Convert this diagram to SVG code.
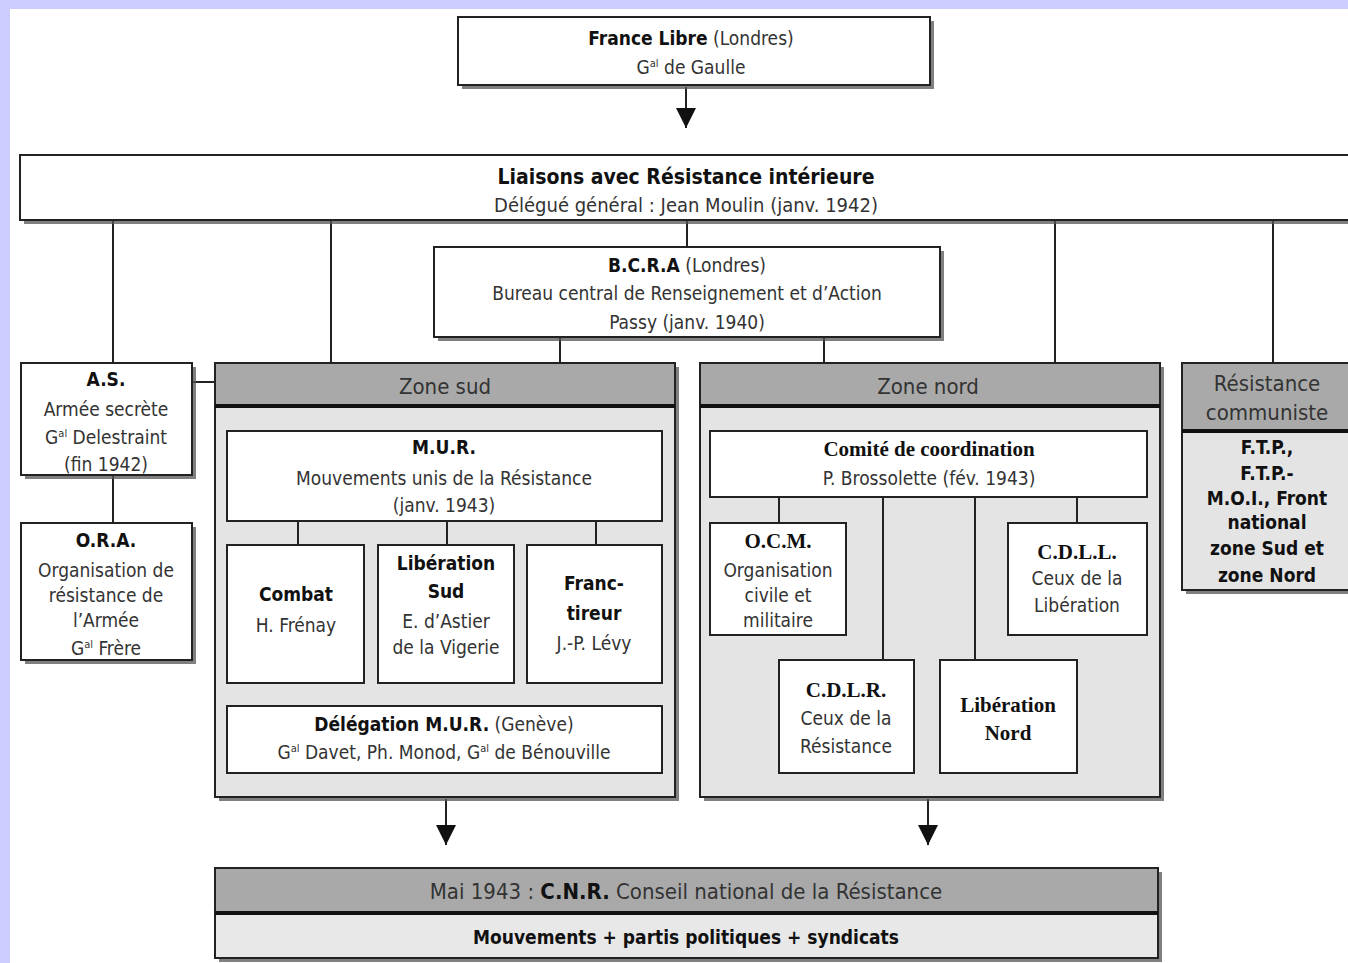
<svg xmlns="http://www.w3.org/2000/svg" width="1348" height="963" viewBox="0 0 1348 963">
<style>
.sh{fill:#555;opacity:.75}
.bx{fill:#fff;stroke:#222;stroke-width:2}
.zb{fill:#e4e4e4;stroke:#222;stroke-width:2}
.zh{fill:#a9a9a9;stroke:#222;stroke-width:2}
.ln{stroke:#222;stroke-width:2;fill:none}
text{font-family:"DejaVu Sans Condensed","Liberation Sans Narrow","Liberation Sans",sans-serif;font-size:19px;fill:#333;text-anchor:middle}
.b{font-weight:bold;fill:#111}
.s{font-family:"Liberation Serif",serif;font-weight:bold;fill:#111;font-size:21px}
.h{font-size:22px;fill:#333}
.sup{font-size:11px}
</style>
<defs>
<marker id="ah" markerWidth="20" markerHeight="20" refX="20" refY="10" orient="auto" markerUnits="userSpaceOnUse" viewBox="0 0 20 20">
<path d="M0,0 L20,10 L0,20 Z" fill="#111"/>
</marker>
</defs>
<rect width="1348" height="963" fill="#ccccff"/>
<rect x="10" y="9" width="1338" height="954" fill="#fff"/>

<g id="connectors">
<line class="ln" x1="686" y1="87" x2="686" y2="128" marker-end="url(#ah)"/>
<line class="ln" x1="113" y1="221" x2="113" y2="363"/>
<line class="ln" x1="331" y1="221" x2="331" y2="363"/>
<line class="ln" x1="687" y1="221" x2="687" y2="247"/>
<line class="ln" x1="1055" y1="221" x2="1055" y2="363"/>
<line class="ln" x1="1273" y1="221" x2="1273" y2="363"/>
<line class="ln" x1="560" y1="337" x2="560" y2="363"/>
<line class="ln" x1="824" y1="337" x2="824" y2="363"/>
<line class="ln" x1="192" y1="382" x2="215" y2="382"/>
<line class="ln" x1="113" y1="475" x2="113" y2="523"/>
<line class="ln" x1="446" y1="799" x2="446" y2="845" marker-end="url(#ah)"/>
<line class="ln" x1="928" y1="799" x2="928" y2="845" marker-end="url(#ah)"/>
</g>

<g id="france-libre">
<rect class="sh" x="462" y="21" width="472" height="68"/>
<rect class="bx" x="458" y="17" width="472" height="68"/>
<text x="691" y="45"><tspan class="b">France Libre</tspan> (Londres)</text>
<text x="691" y="74">G<tspan class="sup" dy="-7">al</tspan><tspan dy="7"> de Gaulle</tspan></text>
</g>

<g id="liaisons">
<rect class="sh" x="24" y="159" width="1330" height="65"/>
<rect class="bx" x="20" y="155" width="1334" height="65"/>
<text x="686" y="184" class="b" style="font-size:21px">Liaisons avec Résistance intérieure</text>
<text x="686" y="212" style="font-size:20px">Délégué général : Jean Moulin (janv. 1942)</text>
</g>

<g id="bcra">
<rect class="sh" x="438" y="251" width="506" height="90"/>
<rect class="bx" x="434" y="247" width="506" height="90"/>
<text x="687" y="272"><tspan class="b">B.C.R.A</tspan> (Londres)</text>
<text x="687" y="300">Bureau central de Renseignement et d’Action</text>
<text x="687" y="329">Passy (janv. 1940)</text>
</g>

<g id="as">
<rect class="sh" x="25" y="367" width="171" height="112"/>
<rect class="bx" x="21" y="363" width="171" height="112"/>
<text x="106" y="386" class="b">A.S.</text>
<text x="106" y="416">Armée secrète</text>
<text x="106" y="444">G<tspan class="sup" dy="-7">al</tspan><tspan dy="7"> Delestraint</tspan></text>
<text x="106" y="471">(fin 1942)</text>
</g>

<g id="ora">
<rect class="sh" x="25" y="527" width="171" height="137"/>
<rect class="bx" x="21" y="523" width="171" height="137"/>
<text x="106" y="547" class="b">O.R.A.</text>
<text x="106" y="577">Organisation de</text>
<text x="106" y="602">résistance de</text>
<text x="106" y="627">l’Armée</text>
<text x="106" y="655">G<tspan class="sup" dy="-7">al</tspan><tspan dy="7"> Frère</tspan></text>
</g>

<g id="zone-sud">
<rect class="sh" x="219" y="367" width="460" height="434"/>
<rect class="zb" x="215" y="363" width="460" height="434"/>
<rect class="zh" x="215" y="363" width="460" height="42"/>
<line x1="215" y1="406" x2="675" y2="406" stroke="#111" stroke-width="4"/>
<text x="445" y="394" class="h">Zone sud</text>
</g>

<g id="mur">
<rect class="bx" x="227" y="431" width="435" height="90"/>
<text x="444" y="454" class="b">M.U.R.</text>
<text x="444" y="485">Mouvements unis de la Résistance</text>
<text x="444" y="512">(janv. 1943)</text>
</g>
<g id="mur-links">
<line class="ln" x1="298" y1="521" x2="298" y2="545"/>
<line class="ln" x1="447" y1="521" x2="447" y2="545"/>
<line class="ln" x1="596" y1="521" x2="596" y2="545"/>
</g>

<g id="combat">
<rect class="bx" x="227" y="545" width="137" height="138"/>
<text x="296" y="601" class="b">Combat</text>
<text x="296" y="632">H. Frénay</text>
</g>

<g id="liberation-sud">
<rect class="bx" x="378" y="545" width="136" height="138"/>
<text x="446" y="570" class="b">Libération</text>
<text x="446" y="598" class="b">Sud</text>
<text x="446" y="628">E. d’Astier</text>
<text x="446" y="654">de la Vigerie</text>
</g>

<g id="franc-tireur">
<rect class="bx" x="527" y="545" width="135" height="138"/>
<text x="594" y="590" class="b">Franc-</text>
<text x="594" y="620" class="b">tireur</text>
<text x="594" y="650">J.-P. Lévy</text>
</g>

<g id="delegation">
<rect class="bx" x="227" y="706" width="435" height="67"/>
<text x="444" y="731"><tspan class="b">Délégation M.U.R.</tspan> (Genève)</text>
<text x="444" y="759">G<tspan class="sup" dy="-7">al</tspan><tspan dy="7"> Davet, Ph. Monod, G</tspan><tspan class="sup" dy="-7">al</tspan><tspan dy="7"> de Bénouville</tspan></text>
</g>

<g id="zone-nord">
<rect class="sh" x="704" y="367" width="460" height="434"/>
<rect class="zb" x="700" y="363" width="460" height="434"/>
<rect class="zh" x="700" y="363" width="460" height="42"/>
<line x1="700" y1="406" x2="1160" y2="406" stroke="#111" stroke-width="4"/>
<text x="928" y="394" class="h">Zone nord</text>
</g>

<g id="nord-links">
<line class="ln" x1="779" y1="497" x2="779" y2="523"/>
<line class="ln" x1="883" y1="497" x2="883" y2="660"/>
<line class="ln" x1="975" y1="497" x2="975" y2="660"/>
<line class="ln" x1="1077" y1="497" x2="1077" y2="523"/>
</g>

<g id="comite">
<rect class="bx" x="710" y="431" width="437" height="66"/>
<text x="929" y="456" class="s">Comité de coordination</text>
<text x="929" y="485">P. Brossolette (fév. 1943)</text>
</g>

<g id="ocm">
<rect class="bx" x="710" y="523" width="136" height="112"/>
<text x="778" y="548" class="s">O.C.M.</text>
<text x="778" y="577">Organisation</text>
<text x="778" y="602">civile et</text>
<text x="778" y="627">militaire</text>
</g>

<g id="cdll">
<rect class="bx" x="1008" y="523" width="139" height="112"/>
<text x="1077" y="559" class="s">C.D.L.L.</text>
<text x="1077" y="585">Ceux de la</text>
<text x="1077" y="612">Libération</text>
</g>

<g id="cdlr">
<rect class="bx" x="779" y="660" width="135" height="113"/>
<text x="846" y="697" class="s">C.D.L.R.</text>
<text x="846" y="725">Ceux de la</text>
<text x="846" y="753">Résistance</text>
</g>

<g id="liberation-nord">
<rect class="bx" x="940" y="660" width="137" height="113"/>
<text x="1008" y="712" class="s">Libération</text>
<text x="1008" y="740" class="s">Nord</text>
</g>

<g id="resistance-communiste">
<rect class="sh" x="1186" y="367" width="170" height="227"/>
<rect class="zb" x="1182" y="363" width="170" height="227"/>
<rect class="zh" x="1182" y="363" width="170" height="67"/>
<line x1="1182" y1="431" x2="1352" y2="431" stroke="#111" stroke-width="4"/>
<text x="1267" y="391" class="h">Résistance</text>
<text x="1267" y="420" class="h">communiste</text>
<text x="1267" y="454" class="b">F.T.P.,</text>
<text x="1267" y="480" class="b">F.T.P.-</text>
<text x="1267" y="505" class="b">M.O.I., Front</text>
<text x="1267" y="529" class="b">national</text>
<text x="1267" y="555" class="b">zone Sud et</text>
<text x="1267" y="582" class="b">zone Nord</text>
</g>

<g id="cnr">
<rect class="sh" x="219" y="872" width="943" height="90"/>
<rect class="zb" x="215" y="868" width="943" height="90" style="fill:#e8e8e8"/>
<rect class="zh" x="215" y="868" width="943" height="44"/>
<line x1="215" y1="913" x2="1158" y2="913" stroke="#111" stroke-width="4"/>
<text x="686" y="899" class="h">Mai 1943 : <tspan class="b">C.N.R.</tspan> Conseil national de la Résistance</text>
<text x="686" y="944" class="b">Mouvements + partis politiques + syndicats</text>
</g>
</svg>
